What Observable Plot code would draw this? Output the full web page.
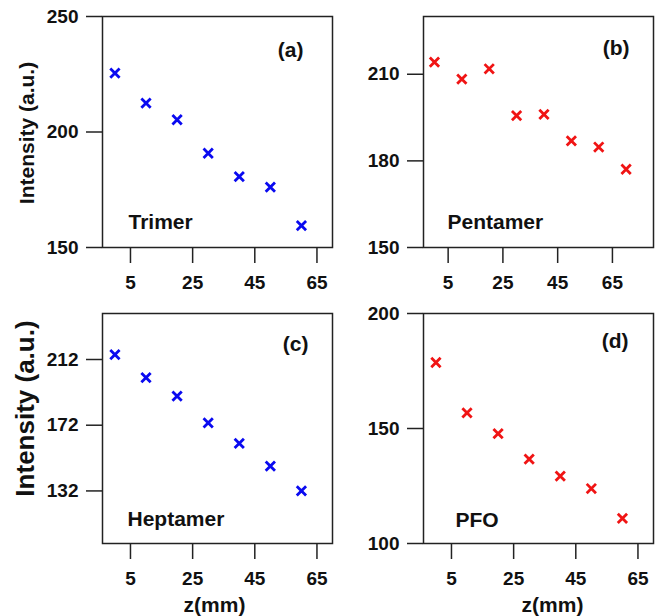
<!DOCTYPE html>
<html>
<head>
<meta charset="utf-8">
<script src="https://cdn.jsdelivr.net/npm/d3@7"></script>
<script src="https://cdn.jsdelivr.net/npm/@observablehq/plot@0.6"></script>
<style>
  body { margin: 0; background: #fff; }
  #figure { position: relative; width: 662px; height: 616px; }
  #figure svg { position: absolute; left: 0; top: 0; }
</style>
</head>
<body>
<div id="figure"></div>
<script>
// Axial position z (mm) and measured intensity (a.u.) for each sample
const zTicks = [5, 25, 45, 65];

const trimerZ = [0, 10, 20, 30, 40, 50, 60];
const trimerI = [225.5, 212.5, 205.3, 190.8, 180.7, 176.1, 159.5];
const trimerTicks = [150, 200, 250];

const pentamerZ = [0, 10, 20, 30, 40, 50, 60, 70];
const pentamerI = [214.2, 208.3, 211.9, 195.7, 196.1, 186.9, 184.8, 177.1];
const pentamerTicks = [150, 180, 210];

const heptamerZ = [0, 10, 20, 30, 40, 50, 60];
const heptamerI = [215, 201, 189.7, 173.4, 160.9, 147.1, 132];
const heptamerTicks = [132, 172, 212];

const pfoZ = [0, 10, 20, 30, 40, 50, 60];
const pfoI = [178.7, 156.8, 147.8, 136.7, 129.3, 123.9, 110.9];
const pfoTicks = [100, 150, 200];

const W = 662, H = 616;
const INK = "#111";
const LINE = "#222";
const FONT = "'Liberation Sans', Arial, Helvetica, sans-serif";

function panel(cfg) {
  const data = cfg.z.map((z, i) => ({z, intensity: cfg.intensity[i]}));
  const f = cfg.frame;
  const marks = [
    Plot.frame({stroke: LINE, strokeWidth: 1.5}),
    Plot.axisX({ticks: zTicks, tickSize: 16, tickPadding: 12, stroke: LINE, strokeWidth: 1.5, label: null}),
    Plot.axisY({ticks: cfg.yTicks, tickSize: 16, tickPadding: 8, stroke: LINE, strokeWidth: 1.5, label: null}),
    Plot.dot(data, {x: "z", y: "intensity", symbol: "times", r: 4.3, stroke: cfg.color, strokeWidth: 2.8}),
    Plot.text([cfg.tag], {frameAnchor: "top-right", textAnchor: "end", lineAnchor: "bottom",
      dx: cfg.tagPos[0], dy: cfg.tagPos[1], fontSize: 21, fontWeight: "bold", fill: INK}),
    Plot.text([cfg.name], {frameAnchor: "bottom-left", textAnchor: "start", lineAnchor: "bottom",
      dx: cfg.namePos[0], dy: cfg.namePos[1], fontSize: 21, fontWeight: "bold", fill: INK})
  ];
  if (cfg.yLabel) {
    marks.push(Plot.text([cfg.yLabel.text], {frameAnchor: "left", rotate: -90, textAnchor: "middle", lineAnchor: "middle",
      dx: cfg.yLabel.dx, dy: cfg.yLabel.dy, fontSize: cfg.yLabel.size, fontWeight: "bold", fill: INK}));
  }
  if (cfg.xLabel) {
    marks.push(Plot.text([cfg.xLabel.text], {frameAnchor: "bottom", textAnchor: "middle", lineAnchor: "bottom",
      dx: cfg.xLabel.dx, dy: cfg.xLabel.dy, fontSize: 21, fontWeight: "bold", fill: INK}));
  }
  return Plot.plot({
    width: W,
    height: H,
    marginLeft: f.left,
    marginRight: W - f.right,
    marginTop: f.top,
    marginBottom: H - f.bottom,
    x: {domain: cfg.xDomain},
    y: {domain: cfg.yDomain},
    style: {fontFamily: FONT, fontSize: "19px", fontWeight: "bold", color: INK, background: "transparent", overflow: "visible"},
    marks
  });
}

const panels = [
  {z: trimerZ, intensity: trimerI, color: "#0a0af0", xDomain: [-4, 70], yDomain: [150, 250], yTicks: trimerTicks,
   frame: {left: 102, right: 332, top: 16, bottom: 247}, tag: "(a)", tagPos: [-29, 40], name: "Trimer", namePos: [26, -19],
   yLabel: {text: "Intensity (a.u.)", dx: -75, dy: 1, size: 21}},
  {z: pentamerZ, intensity: pentamerI, color: "#f01414", xDomain: [-4, 80], yDomain: [150, 230], yTicks: pentamerTicks,
   frame: {left: 423, right: 653, top: 16, bottom: 247}, tag: "(b)", tagPos: [-24, 38], name: "Pentamer", namePos: [24, -19]},
  {z: heptamerZ, intensity: heptamerI, color: "#0a0af0", xDomain: [-4, 70], yDomain: [100, 240], yTicks: heptamerTicks,
   frame: {left: 102, right: 332, top: 313, bottom: 543}, tag: "(c)", tagPos: [-24, 37], name: "Heptamer", namePos: [25, -18],
   yLabel: {text: "Intensity (a.u.)", dx: -77, dy: -20, size: 26},
   xLabel: {text: "z(mm)", dx: -3, dy: 68}},
  {z: pfoZ, intensity: pfoI, color: "#f01414", xDomain: [-4, 70], yDomain: [100, 200], yTicks: pfoTicks,
   frame: {left: 423, right: 653, top: 313, bottom: 543}, tag: "(d)", tagPos: [-25, 34], name: "PFO", namePos: [32, -17],
   xLabel: {text: "z(mm)", dx: 14, dy: 68}}
];

const figure = document.getElementById("figure");
for (const cfg of panels) figure.append(panel(cfg));
</script>
</body>
</html>
